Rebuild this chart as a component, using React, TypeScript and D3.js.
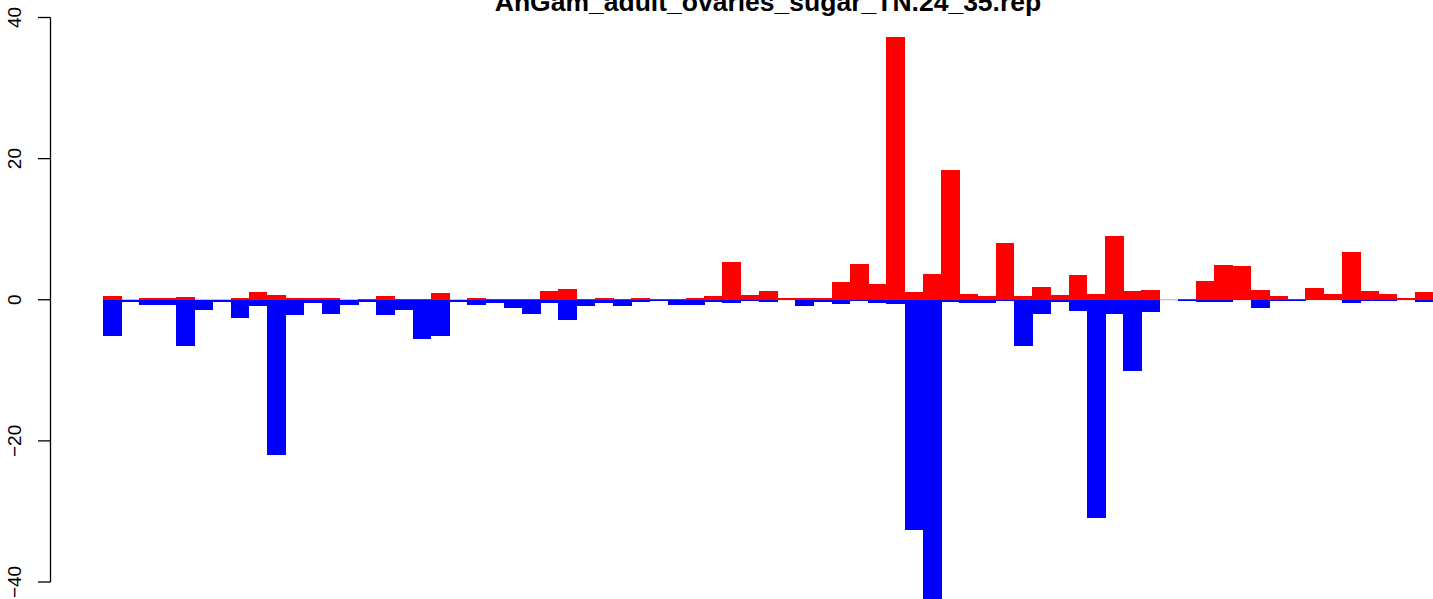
import React from "react";
import * as d3 from "d3";

const title = "AnGam_adult_ovaries_sugar_TN.24_35.rep";
const yTicks = [-40, -20, 0, 20, 40];
const redValues = [
  0.57, 0, 0.2, 0.2, 0.4, 0, 0, 0.3, 1.1, 0.7, 0.3, 0.3, 0.3, 0, 0.15, 0.57, 0.15, 0.15, 1.0, 0,
  0.3, 0.15, 0.15, 0.15, 1.3, 1.55, 0.15, 0.3, 0.15, 0.3, 0.1, 0.1, 0.3, 0.57, 5.4, 0.7, 1.3, 0.3, 0.3, 0.3,
  2.55, 5.1, 2.25, 37.2, 1.1, 3.7, 18.4, 0.85, 0.57, 8.1, 0.57, 1.85, 0.7, 3.55, 0.85, 9.1, 1.3, 1.4, 0, 0.15,
  2.7, 4.95, 4.8, 1.4, 0.57, 0.15, 1.7, 0.85, 6.8, 1.3, 0.85, 0.3, 1.1,
];
const blueValues = [
  -5.2, -0.3, -0.8, -0.8, -6.6, -1.4, -0.3, -2.65, -0.95, -22.0, -2.1, -0.5, -1.95, -0.8, -0.25, -2.1, -1.4, -5.5, -5.2, -0.3,
  -0.8, -0.4, -1.2, -1.95, -0.4, -2.8, -0.95, -0.4, -0.95, -0.3, -0.15, -0.8, -0.8, -0.3, -0.4, -0.15, -0.3, -0.05, -0.95, -0.3,
  -0.65, -0.15, -0.4, -0.55, -32.6, -42.5, -0.3, -0.4, -0.4, -0.15, -6.5, -2.0, -0.3, -1.55, -30.9, -2.0, -10.1, -1.7, -0.1, -0.15,
  -0.3, -0.3, 0, -1.1, -0.15, -0.15, 0, 0, -0.4, -0.15, -0.15, 0, -0.3,
];

export default function App() {
  const W = 1433;
  const H = 599;
  const idx = redValues.map((_, i) => i);
  const x = d3.scaleBand<number>().domain(idx).range([103, 1433]).padding(0);
  const y = d3.scaleLinear().domain([-40, 40]).range([582, 17.5]);
  const axisX = 50.5;
  const y0 = y(0);

  return (
    <svg
      width={W}
      height={H}
      style={{ position: "fixed", left: 0, top: 0, background: "#fff" }}
      fontFamily="'Liberation Sans', Arial, Helvetica, sans-serif"
    >
      <rect x={0} y={0} width={W} height={H} fill="#fff" />
      <text x={768} y={11} textAnchor="middle" fontWeight="bold" fontSize={26.5} fill="#000">
        {title}
      </text>
      <line x1={103} x2={W} y1={y0} y2={y0} stroke="#b0b0b8" strokeWidth={1} />
      <g shapeRendering="crispEdges">
        {blueValues.map((v, i) =>
          v < 0 ? (
            <rect key={"b" + i} x={x(i)} width={x.bandwidth() + 0.5} y={y0} height={y(v) - y0} fill="#0000FF" />
          ) : null
        )}
        {redValues.map((v, i) =>
          v > 0 ? (
            <rect key={"r" + i} x={x(i)} width={x.bandwidth() + 0.5} y={y(v)} height={y0 - y(v)} fill="#FF0000" />
          ) : null
        )}
      </g>
      <line x1={axisX} x2={axisX} y1={y(40)} y2={y(-40)} stroke="#000" strokeWidth={1.3} />
      {yTicks.map((t) => (
        <g key={t}>
          <line x1={38} x2={axisX} y1={y(t)} y2={y(t)} stroke="#000" strokeWidth={1.3} />
          <text
            transform={`translate(21,${y(t)}) rotate(-90)`}
            textAnchor="middle"
            fontSize={19}
            fill="#000"
          >
            {t < 0 ? "\u2212" + Math.abs(t) : String(t)}
          </text>
        </g>
      ))}
    </svg>
  );
}
